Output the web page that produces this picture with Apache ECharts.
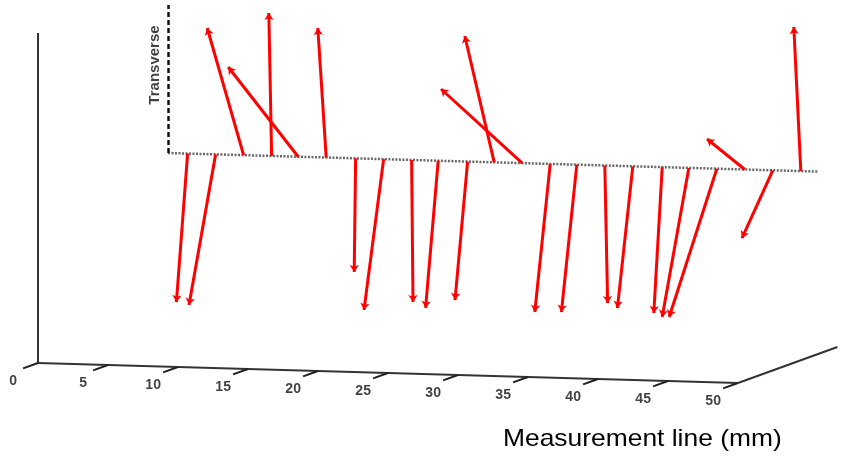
<!DOCTYPE html>
<html>
<head>
<meta charset="utf-8">
<script src="https://cdn.jsdelivr.net/npm/echarts@6/dist/echarts.min.js"></script>
<style>html,body{margin:0;padding:0;background:#fff}#c{width:841px;height:456px}</style>
</head>
<body>
<div id="c"></div>
<script>
// Positions of the measured vectors along the measurement line (mm)
var positions = [1.4, 3.4, 5.4, 7.4, 9.3, 11.3, 13.4, 15.4, 17.4, 19.3, 21.4, 23.3,
                 25.3, 27.3, 29.2, 31.2, 33.2, 35.3, 37.2, 39.2, 41.2, 43.2, 45.2];
// Longitudinal component of each vector (along the measurement line)
var longitudinal = [-0.8, -1.9, -2.6, -0.2, -5.0, -0.6, -0.1, -1.4, 0.1, -0.9, -0.9, -2.1,
                    -5.8, -1.1, -1.1, 0.2, -1.1, -0.6, -1.9, -3.4, -2.7, -2.2, -0.5];
// Transverse component of each vector
var transverse = [-148.8, -151.4, 126.1, 142.9, 87.7, 129.3, -113.7, -151.4, -142.0, -147.6, -138.8, 125.5,
                  71.8, -148.5, -147.8, -137.4, -142.2, -146.1, -149.9, -149.7, 29.4, -68.6, 143.9];
// Axis tick labels (mm)
var tickValues = [0, 5, 10, 15, 20, 25, 30, 35, 40, 45, 50];
var tickLabels = ['0', '5', '10', '15', '20', '25', '30', '35', '40', '45', '50'];
var lineLength = 46.4;   // extent of the measurement line (mm)
var transverseLen = 148; // length of the transverse reference

// oblique projection of (mm along line, depth, height) into the 2D plot space
var DEPTH_X = 7.1, DEPTH_Y = 36, SLOPE = -0.4;
var D0 = 1.308, H0 = 162.9;
function proj(mm, depth, h) {
  return [mm + DEPTH_X * depth, SLOPE * mm + DEPTH_Y * depth + h];
}

var arrows = positions.map(function (p, i) {
  return { coords: [proj(p, D0, H0), proj(p + longitudinal[i], D0, H0 + transverse[i])] };
});
var axesLines = [
  { coords: [proj(0, 0, 0), proj(50, 0, 0)] },
  { coords: [proj(0, 0, 0), proj(0, 0, 330)] },
  { coords: [proj(50, 0, 0), proj(50, 1, 0)] }
];
var ticks = tickValues.map(function (t) {
  return { coords: [proj(t, 0, 0), proj(t, -0.15, 0)] };
});
var labelPts = tickValues.map(function (t, i) {
  var c = proj(t, -0.25, -9);
  return { value: c, name: tickLabels[i] };
});

var chart = echarts.init(document.getElementById('c'), null, { renderer: 'canvas' });
chart.setOption({
  animation: false,
  backgroundColor: '#ffffff',
  graphic: [{
    type: 'text', x: 503, y: 427, scaleX: 1.1,
    style: { text: 'Measurement line (mm)', font: '24px "Liberation Sans", Arial, sans-serif', fill: '#000' }
  }],
  grid: { left: 0, right: 0, top: 0, bottom: 0 },
  xAxis: { type: 'value', min: -38 / 14, max: 803 / 14, show: false },
  yAxis: { type: 'value', min: -93, max: 363, show: false },
  series: [
    {
      type: 'lines', coordinateSystem: 'cartesian2d', z: 2,
      lineStyle: { color: '#333', width: 2, opacity: 1 },
      data: axesLines
    },
    {
      type: 'lines', coordinateSystem: 'cartesian2d', z: 2,
      lineStyle: { color: '#222', width: 2, opacity: 1 },
      data: ticks
    },
    {
      type: 'lines', coordinateSystem: 'cartesian2d', z: 2,
      lineStyle: { color: '#666', width: 2.5, type: [2, 1.5], opacity: 1 },
      data: [{ coords: [proj(0, D0, H0), proj(lineLength, D0, H0)] }]
    },
    {
      type: 'lines', coordinateSystem: 'cartesian2d', z: 2,
      lineStyle: { color: '#111', width: 2.5, type: [5, 3], opacity: 1 },
      data: [{ coords: [proj(0, D0, H0), proj(0, D0, H0 + transverseLen)] }]
    },
    {
      type: 'lines', coordinateSystem: 'cartesian2d', z: 3,
      symbol: ['none', 'arrow'], symbolSize: 7,
      lineStyle: { color: '#ff0000', width: 3, opacity: 1 },
      data: arrows
    },
    {
      type: 'scatter', symbolSize: 0, z: 4,
      label: {
        show: true, position: 'inside', formatter: '{b}',
        fontFamily: 'Liberation Sans, Arial, sans-serif', fontWeight: 'bold', fontSize: 14, color: '#111'
      },
      data: labelPts
    },
    {
      type: 'scatter', symbolSize: 0, z: 4,
      label: {
        show: true, position: 'inside', formatter: 'Transverse', rotate: 90, offset: [0, -13],
        fontFamily: 'Liberation Sans, Arial, sans-serif', fontWeight: 'bold', fontSize: 15, color: '#111'
      },
      data: [{ value: proj(0, D0, H0 + 88), name: 'Transverse' }]
    }
  ]
});
</script>
</body>
</html>
